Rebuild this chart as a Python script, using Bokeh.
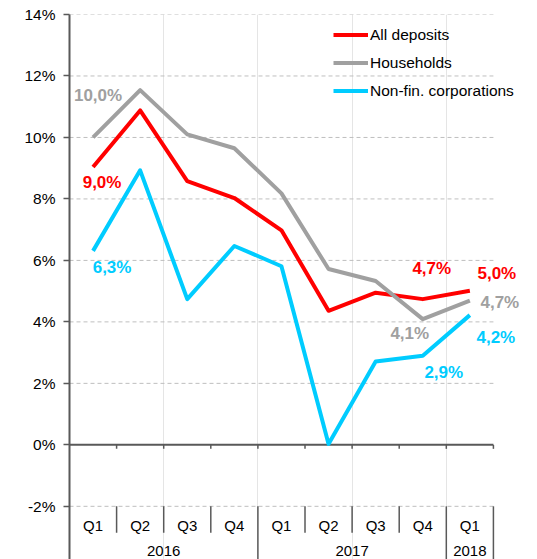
from bokeh.plotting import figure
from bokeh.models import Range1d, FixedTicker, PrintfTickFormatter, Legend, LegendItem
from bokeh.core.properties import value
from bokeh.embed import file_html
from bokeh.resources import INLINE

# ---- data ----
quarters = ["Q1", "Q2", "Q3", "Q4", "Q1", "Q2", "Q3", "Q4", "Q1"]
years = ["2016", "2017", "2018"]
year_spans = [4, 4, 1]
all_deposits = [9.04, 10.88, 8.58, 8.03, 6.98, 4.36, 4.95, 4.74, 5.01]
households = [10.0, 11.54, 10.1, 9.65, 8.18, 5.72, 5.33, 4.09, 4.69]
non_fin = [6.31, 8.93, 4.74, 6.47, 5.81, 0.03, 2.71, 2.90, 4.22]
y_ticks = [-2, 0, 2, 4, 6, 8, 10, 12, 14]

# ---- styles ----
FONT = value("Liberation Sans")
RED = "#FF0000"
GRAY = "#A0A0A0"
CYAN = "#00CCFF"
AXIS = "#595959"
GRID = "#BFBFBF"

n = len(quarters)
xs = [i + 0.5 for i in range(n)]
Y_BOTTOM = -3.73

p = figure(width=537, height=559, x_range=Range1d(0, 9.936), y_range=Range1d(Y_BOTTOM, 14),
           output_backend="svg", toolbar_location=None, x_axis_location=None,
           min_border_left=69, min_border_right=0, min_border_top=14, min_border_bottom=0)
p.outline_line_color = None
p.ygrid.grid_line_color = None
p.background_fill_color = "white"

ax = p.yaxis[0]
ax.ticker = FixedTicker(ticks=y_ticks)
ax.formatter = PrintfTickFormatter(format="%d%%")
ax.minor_tick_line_color = None
ax.major_tick_in = 0
ax.major_tick_out = 6
ax.axis_line_color = AXIS
ax.axis_line_width = 2
ax.major_tick_line_color = AXIS
ax.major_tick_line_width = 1.5
ax.major_label_standoff = 8
ax.major_label_text_font = "Liberation Sans"
ax.major_label_text_font_size = "15.5px"
ax.major_label_text_color = "#000000"

# gridlines (dashed), except 0 which is the solid category axis
gt = [t for t in y_ticks if t != 0]
p.segment(x0=[0] * len(gt), x1=[n] * len(gt), y0=gt, y1=gt,
          line_color=GRID, line_width=1, line_dash="4 3")

# zero axis line with ticks at category boundaries
p.segment(x0=[0], x1=[n], y0=[0], y1=[0], line_color=AXIS, line_width=2)
bounds = list(range(1, n + 1))
p.segment(x0=bounds, x1=bounds, y0=[0] * len(bounds), y1=[-0.13] * len(bounds),
          line_color=AXIS, line_width=1.5)

# category table separators
year_bounds = [0]
for s in year_spans:
    year_bounds.append(year_bounds[-1] + s)
q_bounds = [b for b in range(1, n) if b not in year_bounds]
ymin = -2
p.segment(x0=q_bounds, x1=q_bounds, y0=[ymin] * len(q_bounds), y1=[-2.86] * len(q_bounds),
          line_color=AXIS, line_width=1.5)
yb = [b for b in year_bounds if b != 0]
p.segment(x0=yb, x1=yb, y0=[ymin] * len(yb), y1=[Y_BOTTOM] * len(yb),
          line_color=AXIS, line_width=1.5)

p.text(x=xs, y=[-2.64] * n, text=quarters, text_font=FONT, text_font_size="15px",
       text_align="center", text_baseline="middle", text_color="#000000")
year_x = [year_bounds[i] + year_spans[i] / 2 for i in range(len(years))]
p.text(x=year_x, y=[-3.45] * len(years), text=years, text_font=FONT, text_font_size="15px",
       text_align="center", text_baseline="middle", text_color="#000000")

# series
r_all = p.line(xs, all_deposits, line_color=RED, line_width=4, line_join="round")
r_hh = p.line(xs, households, line_color=GRAY, line_width=4, line_join="round")
r_nf = p.line(xs, non_fin, line_color=CYAN, line_width=4, line_join="round")

# data labels: (values, index, color, dx, dy)
labels = [
    (households, 0, GRAY, 5, -42),
    (all_deposits, 0, RED, 9, 16),
    (non_fin, 0, CYAN, 19, 17),
    (all_deposits, 7, RED, 9, -31),
    (all_deposits, 8, RED, 27, -17),
    (households, 8, GRAY, 30, 2),
    (households, 7, GRAY, -13, 14),
    (non_fin, 8, CYAN, 26, 22),
    (non_fin, 7, CYAN, 21, 17),
]
for vals, i, col, dx, dy in labels:
    txt = f"{vals[i]:.1f}".replace(".", ",") + "%"
    p.text(x=[xs[i]], y=[vals[i]], text=[txt], x_offset=dx, y_offset=dy,
           text_font=FONT, text_font_size="17px", text_font_style="bold",
           text_color=col, text_align="center", text_baseline="middle")

legend = Legend(items=[
    LegendItem(label="All deposits", renderers=[r_all]),
    LegendItem(label="Households", renderers=[r_hh]),
    LegendItem(label="Non-fin. corporations", renderers=[r_nf]),
], location=(264, 458))
legend.padding = 0
legend.margin = 0
legend.spacing = 7
legend.glyph_width = 35
legend.glyph_height = 21
legend.label_height = 21
legend.label_standoff = 2
legend.label_text_font = "Liberation Sans"
legend.label_text_font_size = "15.5px"
legend.label_text_color = "#000000"
legend.border_line_color = None
legend.background_fill_alpha = 0
p.add_layout(legend)

open("out.html", "w").write(file_html(p, INLINE))
